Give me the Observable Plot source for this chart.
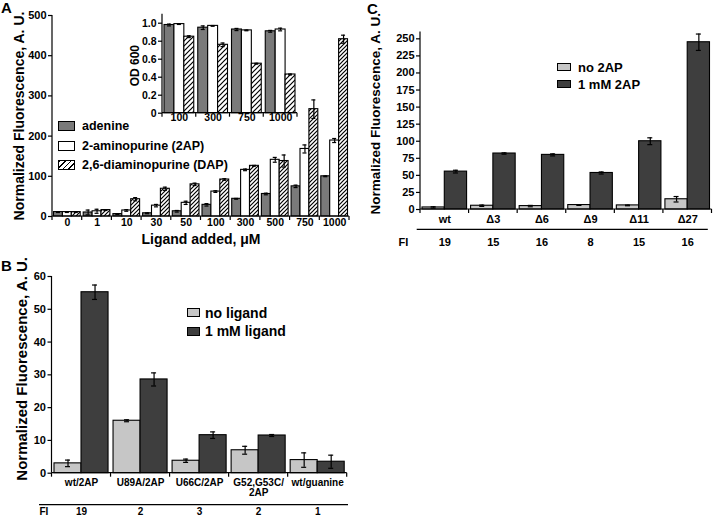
<!DOCTYPE html>
<html><head><meta charset="utf-8">
<script src="https://cdn.jsdelivr.net/npm/d3@7"></script>
<script src="https://cdn.jsdelivr.net/npm/@observablehq/plot@0.6"></script>
<style>
body{margin:0;background:#fff;}
#root{position:relative;width:713px;height:518px;overflow:hidden;font-family:"Liberation Sans",Arial,Helvetica,sans-serif;font-weight:bold;color:#000;background:#fff;}
#root > svg{position:absolute;}
.plabel{position:absolute;font-size:15px;line-height:15px;font-weight:bold;}
.legend{position:absolute;}
.lrow{display:flex;align-items:center;white-space:nowrap;}
.sw{display:inline-block;border:1px solid #000;box-sizing:border-box;flex:none;}
</style></head><body><div id="root"></div>
<script>
// ---------- Panel A: fluorescence vs ligand ----------
const aConc = ["0","1","10","30","50","100","300","500","750","1000"];
const aSeries = ["adenine","2-aminopurine (2AP)","2,6-diaminopurine (DAP)"];
const aAdenine    = [11, 10, 6, 8, 13, 29, 44, 56, 75, 100];
const aAdenineErr = [1, 6, 1, 1, 2, 3, 1, 2, 3, 1];
const a2AP        = [11, 13, 15, 27, 34, 62, 116, 141, 168, 189];
const a2APErr     = [1, 5, 2, 3, 4, 2, 2, 6, 10, 5];
const aDAP        = [11, 16, 43, 69, 80, 92, 126, 138, 267, 441];
const aDAPErr     = [1, 1, 4, 4, 3, 2, 1, 15, 23, 10];
const aYTicks = [0, 100, 200, 300, 400, 500];

// ---------- Panel A inset: OD 600 ----------
const insetConc = ["100","300","750","1000"];
const insetAdenine    = [0.98, 0.95, 0.93, 0.91];
const insetAdenineErr = [0.01, 0.02, 0.012, 0.01];
const inset2AP        = [0.99, 0.97, 0.92, 0.93];
const inset2APErr     = [0.004, 0.004, 0.004, 0.015];
const insetDAP        = [0.85, 0.76, 0.55, 0.43];
const insetDAPErr     = [0.01, 0.02, 0.005, 0.005];
const insetYTicks = [0, 0.2, 0.4, 0.6, 0.8, 1.0];

// ---------- Panel B: mutants ----------
const bGroups = ["wt/2AP","U89A/2AP","U66C/2AP","G52,G53C/\n2AP","wt/guanine"];
const bSeries = ["no ligand","1 mM ligand"];
const bNo      = [3, 16, 3.8, 7, 4];
const bNoErr   = [1, 0.3, 0.5, 1.2, 2.2];
const b1mM     = [55.2, 28.6, 11.6, 11.5, 3.5];
const b1mMErr  = [2.2, 2, 1, 0.3, 2];
const bFI      = ["19","2","3","2","1"];
const bYTicks  = [0, 10, 20, 30, 40, 50, 60];

// ---------- Panel C: deletions ----------
const cGroups = ["wt","Δ3","Δ6","Δ9","Δ11","Δ27"];
const cSeries = ["no 2AP","1 mM 2AP"];
const cNo      = [3, 5.5, 5, 6.5, 6, 15];
const cNoErr   = [1, 1, 1, 0.5, 0.5, 4];
const c1mM     = [55.5, 82, 80, 53.5, 100, 245];
const c1mMErr  = [2, 1, 1.5, 1.5, 5, 12];
const cFI      = ["19","15","16","8","15","16"];
const cYTicks  = [0, 25, 50, 75, 100, 125, 150, 175, 200, 225, 250];

const FONT = '"Liberation Sans", Arial, Helvetica, sans-serif';
const ADENINE = "#7a7a7a", LIGHT = "#c6c6c6", DARK = "#3e3e3e";

function addHatch(svg, id, size) {
  const defs = d3.select(svg).insert("defs", ":first-child");
  const p = defs.append("pattern").attr("id", id).attr("patternUnits", "userSpaceOnUse")
    .attr("width", size).attr("height", size);
  p.append("rect").attr("width", size).attr("height", size).attr("fill", "#fff");
  const s = size;
  p.append("path").attr("d", `M0,${s} L${s},0 M${-s/2},${s/2} L${s/2},${-s/2} M${s/2},${s*1.5} L${s*1.5},${s/2}`)
    .attr("stroke", "#000").attr("stroke-width", 1.2);
}

function panel(cfg) {
  const {groups, series, width, height, ml, mr, mt, mb, yDomain, yTicks, yFormat = d => String(d),
    pad, capW = 4, tickFont = 11, labelFont = 10.5, labelDy, labels = groups, yTitle, yTitleFont = 14,
    yTitleDx, yTitleDy = 0, xTitle, xTitleDy, xTitleFont = 14, fi, fiDy, fiLabelDx, sep, tickLen = 4} = cfg;
  const n = series.length, G = groups.length;
  const bw = (width - ml - mr) / G;
  const barW = (bw - 2 * pad) / n;
  const bars = [], errs = [];
  series.forEach((s, j) => {
    const rows = groups.map((g, i) => ({g, v: s.values[i], e: s.errs[i]}));
    const inL = pad + j * barW, inR = pad + (n - 1 - j) * barW;
    bars.push(Plot.barY(rows, {x: "g", y: "v", fill: s.fill, stroke: "#000", strokeWidth: 1.1, insetLeft: inL, insetRight: inR}));
    const er = rows.filter(d => d.e > 0);
    const capIn = (barW - capW) / 2;
    errs.push(
      Plot.ruleX(er, {x: "g", y1: d => d.v - d.e, y2: d => d.v + d.e, dx: -bw / 2 + pad + (j + 0.5) * barW, stroke: "#000", strokeWidth: 1.2}),
      Plot.tickY(er, {x: "g", y: d => d.v + d.e, insetLeft: inL + capIn, insetRight: inR + capIn, stroke: "#000", strokeWidth: 1.2}),
      Plot.tickY(er, {x: "g", y: d => d.v - d.e, insetLeft: inL + capIn, insetRight: inR + capIn, stroke: "#000", strokeWidth: 1.2})
    );
  });
  const decor = (index, scales, values, dims) => {
    const y = scales.y;
    const x0 = dims.marginLeft, x1 = dims.width - dims.marginRight;
    const yb = y(yDomain[0]), yt = y(yDomain[1]);
    const g = d3.create("svg:g").attr("stroke", "#000").attr("fill", "none").attr("stroke-width", 1.2);
    g.append("line").attr("x1", x0).attr("x2", x0).attr("y1", yb).attr("y2", yt);
    g.append("line").attr("x1", x0).attr("x2", x1).attr("y1", yb).attr("y2", yb);
    for (let i = 0; i <= G; i++) {
      const e = x0 + i * (x1 - x0) / G;
      g.append("line").attr("x1", e).attr("x2", e).attr("y1", yb).attr("y2", yb + tickLen);
    }
    if (sep) g.append("line").attr("x1", x0 + sep.dx0).attr("x2", x1 + sep.dx1)
      .attr("y1", yb + sep.dy).attr("y2", yb + sep.dy);
    return g.node();
  };
  const labelRows = groups.map((g, i) => ({g, t: labels[i]}));
  const marks = [
    ...bars, ...errs, decor,
    Plot.axisY(yTicks, {tickSize: 4, tickPadding: 2, tickFormat: yFormat, fontSize: tickFont, label: null, strokeWidth: 1.2}),
    Plot.text(labelRows, {x: "g", text: "t", frameAnchor: "bottom", dy: labelDy, lineAnchor: "top", textAnchor: "middle", fontSize: labelFont, lineHeight: 0.95})
  ];
  if (yTitle) marks.push(Plot.text([yTitle], {frameAnchor: "left", text: d => d, rotate: -90, dx: yTitleDx, dy: yTitleDy,
    textAnchor: "middle", lineAnchor: "middle", fontSize: yTitleFont}));
  if (xTitle) marks.push(Plot.text([xTitle], {frameAnchor: "bottom", text: d => d, dy: xTitleDy,
    textAnchor: "middle", lineAnchor: "middle", fontSize: xTitleFont}));
  if (fi) {
    marks.push(Plot.text(groups.map((g, i) => ({g, t: fi[i]})), {x: "g", text: "t", frameAnchor: "bottom", dy: fiDy,
      textAnchor: "middle", lineAnchor: "middle", fontSize: labelFont}));
    marks.push(Plot.text(["FI"], {frameAnchor: "bottom-left", text: d => d, dx: fiLabelDx, dy: fiDy,
      textAnchor: "start", lineAnchor: "middle", fontSize: labelFont}));
  }
  return Plot.plot({
    width, height, marginLeft: ml, marginRight: mr, marginTop: mt, marginBottom: mb,
    style: {fontFamily: FONT, fontWeight: "bold", background: "transparent", overflow: "visible", color: "#000"},
    x: {type: "band", domain: groups, paddingInner: 0, paddingOuter: 0, round: false, axis: null},
    y: {domain: yDomain, axis: null},
    marks
  });
}

const root = document.getElementById("root");
function place(el, left, top) { el.style.left = left + "px"; el.style.top = top + "px"; root.appendChild(el); }

// Panel A
const svgA = panel({
  groups: aConc,
  series: [
    {values: aAdenine, errs: aAdenineErr, fill: ADENINE},
    {values: a2AP, errs: a2APErr, fill: "#fff"},
    {values: aDAP, errs: aDAPErr, fill: "url(#hatchA)"}
  ],
  width: 360, height: 250, ml: 52, mr: 11, mt: 15, mb: 34,
  yDomain: [0, 500], yTicks: aYTicks, pad: 1.5, capW: 4, tickFont: 11, labelFont: 10.5, labelDy: 2,
  yTitle: "Normalized Fluorescence, A. U.", yTitleDx: -33, yTitleFont: 14,
  xTitle: "Ligand added, μM", xTitleDy: 23, xTitleFont: 14
});
addHatch(svgA, "hatchA", 4);
place(svgA, 0, 0);

// Inset
const svgI = panel({
  groups: insetConc,
  series: [
    {values: insetAdenine, errs: insetAdenineErr, fill: ADENINE},
    {values: inset2AP, errs: inset2APErr, fill: "#fff"},
    {values: insetDAP, errs: insetDAPErr, fill: "url(#hatchI)"}
  ],
  width: 200, height: 130, ml: 52, mr: 13, mt: 13.7, mb: 17.3,
  yDomain: [0, 1.1], yTicks: insetYTicks, yFormat: d => d === 0 ? "0" : d.toFixed(1),
  pad: 2, capW: 4, tickFont: 10.5, labelFont: 10.5, labelDy: 0.5,
  yTitle: "OD 600", yTitleDx: -27, yTitleDy: 2, yTitleFont: 12
});
addHatch(svgI, "hatchI", 5);
place(svgI, 110, 0);

// Panel B
const svgB = panel({
  groups: bGroups,
  series: [
    {values: bNo, errs: bNoErr, fill: LIGHT},
    {values: b1mM, errs: b1mMErr, fill: DARK}
  ],
  width: 360, height: 268, ml: 51.5, mr: 13.3, mt: 26, mb: 45.3,
  yDomain: [0, 60], yTicks: bYTicks, pad: 2.5, capW: 5, tickFont: 11, labelFont: 10, labelDy: 6.5,
  yTitle: "Normalized Fluorescence, A. U.", yTitleDx: -29.5, yTitleDy: -6, yTitleFont: 15,
  fi: bFI, fiDy: 38.5, fiLabelDx: -12.5, sep: {dx0: -12.5, dx1: 1.3, dy: 32}
});
place(svgB, 0, 250);

// Panel C
const svgC = panel({
  groups: cGroups,
  series: [
    {values: cNo, errs: cNoErr, fill: LIGHT},
    {values: c1mM, errs: c1mMErr, fill: DARK}
  ],
  width: 353, height: 270, ml: 60, mr: 1.5, mt: 31.5, mb: 61,
  yDomain: [0, 260], yTicks: cYTicks, pad: 2, capW: 5, tickFont: 11, labelFont: 11, labelDy: 6.5,
  yTitle: "Normalized Fluorescence, A. U.", yTitleDx: -45, yTitleDy: -7, yTitleFont: 13.5,
  fi: cFI, fiDy: 33, fiLabelDx: -22, sep: {dx0: -3.3, dx1: -3.7, dy: 20.3}
});
place(svgC, 360, 0);

// Legends (HTML)
function legend(items, {left, top, rowH, swW, swH, gap, font}) {
  const div = document.createElement("div");
  div.className = "legend";
  div.style.left = left + "px"; div.style.top = top + "px";
  items.forEach(it => {
    const row = document.createElement("div");
    row.className = "lrow";
    row.style.height = rowH + "px";
    row.style.fontSize = font + "px";
    const sw = document.createElement("span");
    sw.className = "sw";
    sw.style.width = swW + "px"; sw.style.height = swH + "px";
    sw.style.marginRight = gap + "px";
    sw.style.background = it.bg;
    const t = document.createElement("span");
    t.textContent = it.label;
    row.appendChild(sw); row.appendChild(t);
    div.appendChild(row);
  });
  root.appendChild(div);
}
const HATCH_CSS = "repeating-linear-gradient(135deg, #000 0 1px, #fff 1px 4px)";
legend([
  {label: aSeries[0], bg: ADENINE},
  {label: aSeries[1], bg: "#fff"},
  {label: aSeries[2], bg: HATCH_CSS}
], {left: 58, top: 116.25, rowH: 19.5, swW: 17, swH: 10, gap: 7, font: 12.5});
legend([
  {label: bSeries[0], bg: LIGHT},
  {label: bSeries[1], bg: DARK}
], {left: 187, top: 303.25, rowH: 18.5, swW: 13, swH: 9, gap: 5, font: 14});
legend([
  {label: cSeries[0], bg: LIGHT},
  {label: cSeries[1], bg: DARK}
], {left: 557, top: 58.5, rowH: 17, swW: 13.5, swH: 8.5, gap: 7.5, font: 13});

// Panel letters
[["A", 1, 0], ["B", 1, 258], ["C", 367, 1]].forEach(([t, x, y]) => {
  const d = document.createElement("div");
  d.className = "plabel"; d.textContent = t;
  d.style.left = x + "px"; d.style.top = y + "px";
  root.appendChild(d);
});
</script></body></html>
